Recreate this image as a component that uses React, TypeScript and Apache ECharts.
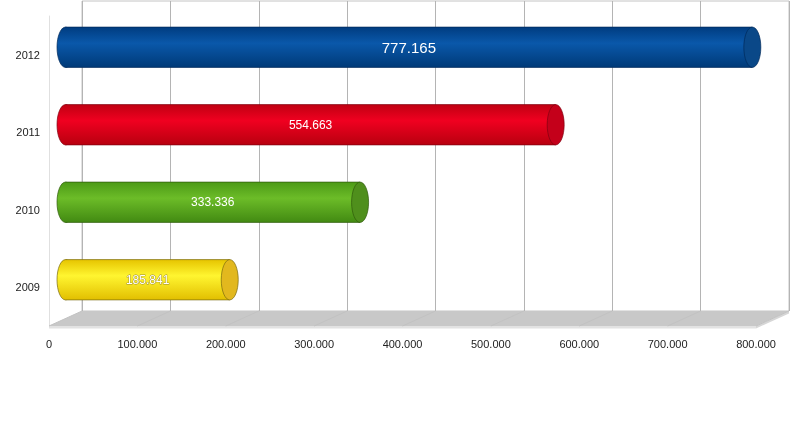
import React, { useEffect, useRef } from "react";
import * as echarts from "echarts";

const categories = ["2009", "2010", "2011", "2012"];
const values = [185841, 333336, 554663, 777165];
const xTicks = [0, 100000, 200000, 300000, 400000, 500000, 600000, 700000, 800000];

const palette = [
  { top: "#e6c400", mid: "#fff530", bot: "#e2bf00", cap: "#e2b81e", edge: "#7a6a10", label: 12, tb: "#9a8a30" },
  { top: "#4c9a16", mid: "#6cbc28", bot: "#428a12", cap: "#4f8f1c", edge: "#2f5a0c", label: 12, tb: "" },
  { top: "#c00012", mid: "#f00020", bot: "#b8000f", cap: "#c4001a", edge: "#800010", label: 12, tb: "" },
  { top: "#003c80", mid: "#0a58aa", bot: "#003a78", cap: "#0a4888", edge: "#002a5a", label: 15, tb: "" },
];

const DX = 33;
const DY = -15;
const FONT = "Liberation Sans, Arial, sans-serif";

const fmt = (v: number) => String(Math.round(v)).replace(/\B(?=(\d{3})+(?!\d))/g, ".");

export default function App() {
  const ref = useRef<HTMLDivElement>(null);
  useEffect(() => {
    document.body.style.margin = "0";
    const chart = echarts.init(ref.current!, undefined, { renderer: "svg" });
    const maxV = xTicks[xTicks.length - 1];
    chart.setOption({
      animation: false,
      grid: [
        { left: 49, right: 54, top: 16, bottom: 96 },
        { left: 82, right: 21, top: 1, bottom: 111, show: true, borderColor: "#c4c4c4", borderWidth: 1, z: 0 },
      ],
      xAxis: [
        {
          type: "value", gridIndex: 0, min: 0, max: maxV, interval: 100000,
          axisLine: { show: false }, axisTick: { show: false }, splitLine: { show: false },
          axisLabel: { formatter: (v: number) => fmt(v), color: "#222", fontSize: 11, fontFamily: FONT, margin: 12 },
        },
        {
          type: "value", gridIndex: 1, min: 0, max: maxV, interval: 100000,
          axisLine: { show: false }, axisTick: { show: false }, axisLabel: { show: false },
          splitLine: { show: true, lineStyle: { color: "#b4b4b4", width: 1 } },
        },
      ],
      yAxis: [
        {
          type: "category", gridIndex: 0, data: categories,
          axisLine: { show: true, lineStyle: { color: "#e0e0e0" } }, axisTick: { show: false },
          axisLabel: { color: "#222", fontSize: 11, fontFamily: FONT, margin: 9 },
        },
        {
          type: "category", gridIndex: 1, data: categories,
          axisLine: { show: false }, axisTick: { show: false }, axisLabel: { show: false },
        },
      ],
      series: [
        {
          type: "custom", xAxisIndex: 0, yAxisIndex: 0, z: 1, clip: false, silent: true,
          data: xTicks.map((t) => [t, 0]),
          renderItem: (params: any, api: any) => {
            const cs = params.coordSys;
            const fy = cs.y + cs.height;
            const x = api.coord([api.value(0), 0])[0];
            const children: any[] = [];
            if (params.dataIndex === 0) {
              const fx0 = cs.x, fx1 = cs.x + cs.width;
              children.push(
                { type: "polygon", shape: { points: [[fx0, fy], [fx0 + DX, fy + DY], [fx1 + DX, fy + DY], [fx1, fy]] }, style: { fill: "#c8c8c8" } },
                { type: "rect", shape: { x: fx0, y: fy, width: cs.width, height: 2.5 }, style: { fill: "#e2e2e2" } },
                { type: "polygon", shape: { points: [[fx1, fy], [fx1 + DX, fy + DY], [fx1 + DX, fy + DY + 2.5], [fx1, fy + 2.5]] }, style: { fill: "#d6d6d6" } }
              );
            }
            children.push({ type: "line", shape: { x1: x, y1: fy, x2: x + DX, y2: fy + DY }, style: { stroke: "#c2c2c2", lineWidth: 1 } });
            return { type: "group", children };
          },
        },
        {
          type: "custom", xAxisIndex: 0, yAxisIndex: 0, z: 5, clip: false, silent: true,
          data: values.map((v, i) => [v, i]),
          renderItem: (params: any, api: any) => {
            const idx = api.value(1);
            const v = api.value(0);
            const s = api.coord([0, idx]);
            const e = api.coord([v, idx]);
            const band = api.size([0, 1])[1];
            const h = band * 0.52;
            const ry = h / 2;
            const rx = 8.5;
            const cy = s[1] + DY / 2;
            const x0 = s[0] + DX / 2;
            const x1 = e[0] + DX / 2;
            const c = palette[idx];
            const grad = () =>
              new echarts.graphic.LinearGradient(0, 0, 0, 1, [
                { offset: 0, color: c.top },
                { offset: 0.4, color: c.mid },
                { offset: 1, color: c.bot },
              ]);
            const textStyle: any = {
              text: fmt(v), x: (x0 + x1) / 2, y: cy, align: "center", verticalAlign: "middle",
              fill: "#ffffff", fontSize: c.label, fontFamily: FONT,
            };
            if (c.tb) {
              textStyle.stroke = c.tb;
              textStyle.lineWidth = 0.8;
            }
            return {
              type: "group",
              children: [
                { type: "ellipse", shape: { cx: x0, cy, rx, ry }, style: { fill: grad(), stroke: c.edge, lineWidth: 0.7 } },
                { type: "rect", shape: { x: x0, y: cy - ry, width: x1 - x0, height: h }, style: { fill: grad() } },
                { type: "line", shape: { x1: x0, y1: cy - ry, x2: x1, y2: cy - ry }, style: { stroke: c.edge, lineWidth: 0.7 } },
                { type: "line", shape: { x1: x0, y1: cy + ry, x2: x1, y2: cy + ry }, style: { stroke: c.edge, lineWidth: 0.7 } },
                { type: "ellipse", shape: { cx: x1, cy, rx, ry }, style: { fill: c.cap, stroke: c.edge, lineWidth: 0.7 } },
                { type: "text", style: textStyle },
              ],
            };
          },
        },
      ],
    });
    return () => chart.dispose();
  }, []);
  return <div ref={ref} style={{ position: "fixed", left: 0, top: 0, width: 810, height: 422 }} />;
}
